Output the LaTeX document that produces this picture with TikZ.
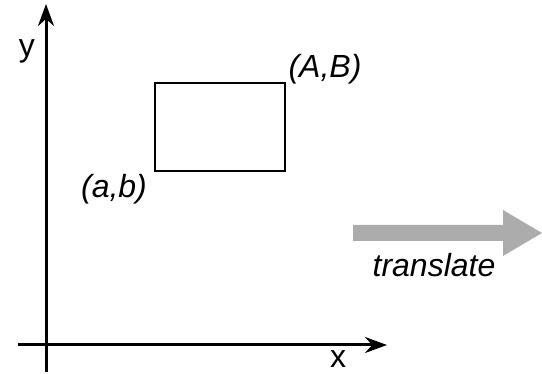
\documentclass[tikz,border=0pt]{standalone}
\usepackage{fontspec}
\setmainfont{Liberation Sans}
\usetikzlibrary{arrows.meta}
\begin{document}
\begin{tikzpicture}[x=1pt,y=-1pt,
  axis/.style={line width=3pt,-{Stealth[length=22pt,width=16pt]}},
  lbl/.style={inner sep=0pt,font=\fontsize{32}{32}\selectfont},
  ilbl/.style={lbl,font=\fontsize{32}{32}\selectfont\itshape}]
\useasboundingbox (0,0) rectangle (542,374);
\coordinate (yb) at (46,372);
\coordinate (yt) at (46,4);
\coordinate (xl) at (18,345);
\coordinate (xr) at (387,345);
\draw[axis] (yb) -- (yt);
\draw[axis] (xl) -- (xr);
\node[lbl] (ylab) at (27,51) {y};
\node[lbl] (xlab) at (338,359) {x};
\draw[line width=2pt] (155,83) rectangle (285,171);
\node[ilbl] (AB) at (325,69) {(A,B)};
\node[ilbl] (ab) at (114,189) {(a,b)};
\fill[gray!65] (353,225) -- (503,225) -- (503,210) -- (542,233) -- (503,256) -- (503,241) -- (353,241) -- cycle;
\node[ilbl] (tr) at (434,265) {translate};
\end{tikzpicture}
\end{document}
